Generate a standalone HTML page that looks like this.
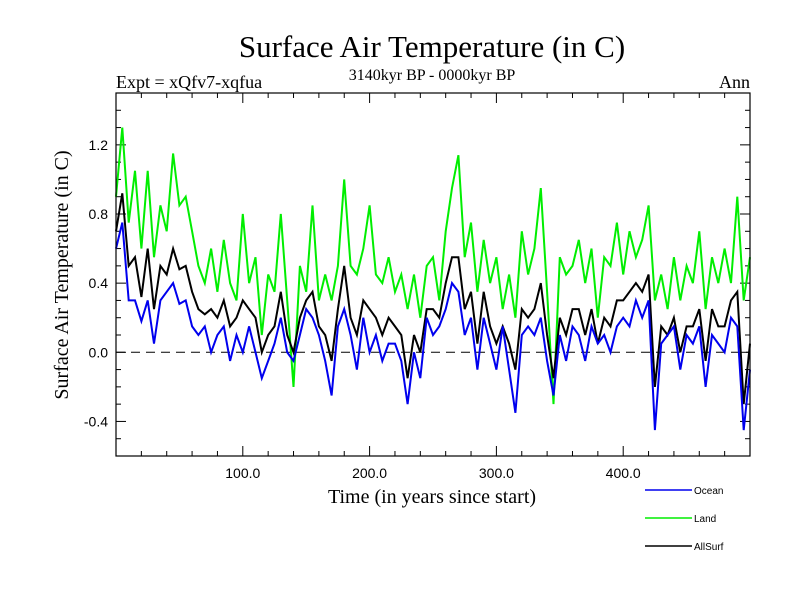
<!DOCTYPE html>
<html><head><meta charset="utf-8"><style>
body{margin:0;background:#fff;}
svg{display:block;}
.serif{font-family:"Liberation Serif",serif;}
.sans{font-family:"Liberation Sans",sans-serif;}
</style></head><body>
<svg id="chart" width="800" height="600" viewBox="0 0 800 600" xmlns="http://www.w3.org/2000/svg">
<rect width="800" height="600" fill="#fff"/>
<text class="serif" x="432" y="57" font-size="31" text-anchor="middle">Surface Air Temperature (in C)</text>
<text class="serif" x="432" y="80" font-size="16" text-anchor="middle">3140kyr BP - 0000kyr BP</text>
<text class="serif" x="116" y="88" font-size="18">Expt = xQfv7-xqfua</text>
<text class="serif" x="750" y="88" font-size="18" text-anchor="end">Ann</text>
<text class="serif" font-size="20" text-anchor="middle" transform="translate(68,275) rotate(-90)">Surface Air Temperature (in C)</text>
<text class="serif" x="432" y="503" font-size="20" text-anchor="middle">Time (in years since start)</text>
<g id="ticks"></g>
<g id="series"></g>
<rect x="116" y="93" width="634" height="363" fill="none" stroke="#000" stroke-width="1.2"/>
<g id="legend"></g>
</svg>
<script>
const years = [];
for (let i = 0; i <= 100; i++) years.push(i * 5);
const landValues = [0.9,1.3,0.75,1.05,0.6,1.05,0.55,0.85,0.7,1.15,0.85,0.9,0.7,0.5,0.4,0.6,0.35,0.65,0.4,0.3,0.8,
0.4,0.55,0.1,0.45,0.35,0.8,0.3,-0.2,0.5,0.35,0.85,0.3,0.45,0.3,0.5,1.0,0.5,0.45,0.6,0.85,
0.45,0.4,0.55,0.35,0.45,0.25,0.45,0.2,0.5,0.55,0.3,0.7,0.95,1.14,0.55,0.75,0.35,0.65,0.4,0.55,
0.25,0.45,0.2,0.7,0.45,0.6,0.95,0.35,-0.3,0.55,0.45,0.5,0.65,0.4,0.6,0.2,0.55,0.5,0.75,0.45,
0.7,0.55,0.65,0.85,0.3,0.45,0.25,0.55,0.3,0.5,0.4,0.7,0.25,0.55,0.4,0.6,0.4,0.9,0.3,0.55];
const oceanValues = [0.6,0.75,0.3,0.3,0.18,0.3,0.05,0.3,0.35,0.4,0.28,0.3,0.15,0.1,0.15,0.0,0.1,0.15,-0.05,0.1,0.0,
0.15,0.0,-0.15,-0.05,0.05,0.2,0.0,-0.05,0.1,0.25,0.2,0.1,-0.05,-0.25,0.15,0.25,0.1,-0.1,0.2,0.0,
0.1,-0.05,0.05,0.05,-0.05,-0.3,0.0,-0.15,0.2,0.1,0.15,0.25,0.4,0.35,0.1,0.2,-0.1,0.2,0.05,-0.1,
0.15,-0.1,-0.35,0.1,0.15,0.1,0.2,-0.05,-0.25,0.1,-0.05,0.15,0.1,-0.05,0.15,0.05,0.1,0.0,0.15,0.2,
0.15,0.3,0.2,0.3,-0.45,0.05,0.1,0.15,-0.1,0.1,0.05,0.15,-0.2,0.1,0.05,0.0,0.2,0.15,-0.45,-0.1];
const allSurfValues = [0.7,0.92,0.5,0.55,0.32,0.6,0.25,0.5,0.45,0.6,0.48,0.5,0.35,0.25,0.22,0.25,0.2,0.3,0.15,0.2,0.3,
0.25,0.2,0.0,0.1,0.15,0.35,0.1,0.0,0.2,0.3,0.35,0.15,0.1,-0.05,0.25,0.5,0.2,0.1,0.3,0.25,
0.2,0.1,0.2,0.15,0.1,-0.15,0.1,0.0,0.25,0.25,0.2,0.4,0.55,0.55,0.25,0.35,0.05,0.35,0.15,0.05,
0.15,0.05,-0.1,0.25,0.2,0.25,0.4,0.1,-0.15,0.2,0.1,0.25,0.25,0.1,0.25,0.05,0.2,0.15,0.3,0.3,
0.35,0.4,0.35,0.45,-0.2,0.15,0.1,0.2,0.0,0.15,0.15,0.25,-0.05,0.25,0.15,0.15,0.3,0.35,-0.3,0.05];
const yTickLabels = ["-0.4","0.0","0.4","0.8","1.2"];
const xTickLabels = ["100.0","200.0","300.0","400.0"];

const X0=116,X1=750,Y0=456,Y1=93,XMIN=0,XMAX=500,YMIN=-0.6,YMAX=1.5;
const NS='http://www.w3.org/2000/svg';
function xs(v){return X0+(v-XMIN)/(XMAX-XMIN)*(X1-X0);}
function ys(v){return Y0-(v-YMIN)/(YMAX-YMIN)*(Y0-Y1);}
function mk(tag,attrs,parent){const e=document.createElementNS(NS,tag);for(const k in attrs)e.setAttribute(k,attrs[k]);parent.appendChild(e);return e;}

const tg=document.getElementById('ticks');
for(let k=-6;k<=15;k++){
  const v=k/10, y=ys(v), major=(k%4===0);
  const len=major?10:5;
  const t1=mk('line',{x1:X0,x2:X0+len,y1:y,y2:y,stroke:'#000','stroke-width':1},tg);
  
  
  const t2=mk('line',{x1:X1,x2:X1-len,y1:y,y2:y,stroke:'#000','stroke-width':1},tg);
  
  
}
yTickLabels.forEach(s=>{
  const t=mk('text',{x:X0-8,y:ys(parseFloat(s))+5,'font-size':14,'text-anchor':'end','class':'sans'},tg);
  t.textContent=s;
  
  
});
for(let v=0;v<=500;v+=20){
  const x=xs(v), major=(v%100===0), len=major?10:5;
  const t1=mk('line',{x1:x,x2:x,y1:Y0,y2:Y0-len,stroke:'#000','stroke-width':1},tg);
  
  
  const t2=mk('line',{x1:x,x2:x,y1:Y1,y2:Y1+len,stroke:'#000','stroke-width':1},tg);
  
  
}
xTickLabels.forEach(s=>{
  const t=mk('text',{x:xs(parseFloat(s)),y:Y0+22,'font-size':14,'text-anchor':'middle','class':'sans'},tg);
  t.textContent=s;
  
  
});

const sg=document.getElementById('series');
const zl=mk('line',{x1:X0,x2:X1,y1:ys(0),y2:ys(0),stroke:'#000','stroke-width':1,'stroke-dasharray':'9,6'},sg);


function pathFor(vals){return vals.map((v,i)=>(i?'L':'M')+xs(years[i]).toFixed(1)+','+ys(v).toFixed(1)).join(' ');}
const pLand=mk('path',{d:pathFor(landValues),fill:'none',stroke:'#00ee00','stroke-width':2},sg);


const pAll=mk('path',{d:pathFor(allSurfValues),fill:'none',stroke:'#000','stroke-width':2},sg);


const pOcean=mk('path',{d:pathFor(oceanValues),fill:'none',stroke:'#0000ee','stroke-width':2},sg);



const lg=document.getElementById('legend');
[["Ocean","#0000ee",490],["Land","#00ee00",518],["AllSurf","#000",546]].forEach(([n,c,y])=>{
  const g=mk('g',{},lg);
  
  
  mk('line',{x1:645,x2:692,y1:y,y2:y,stroke:c,'stroke-width':1.5},g);
  const t=mk('text',{x:694,y:y+4,'font-size':10,'class':'sans'},g);
  t.textContent=n;
});
</script>
</body></html>
